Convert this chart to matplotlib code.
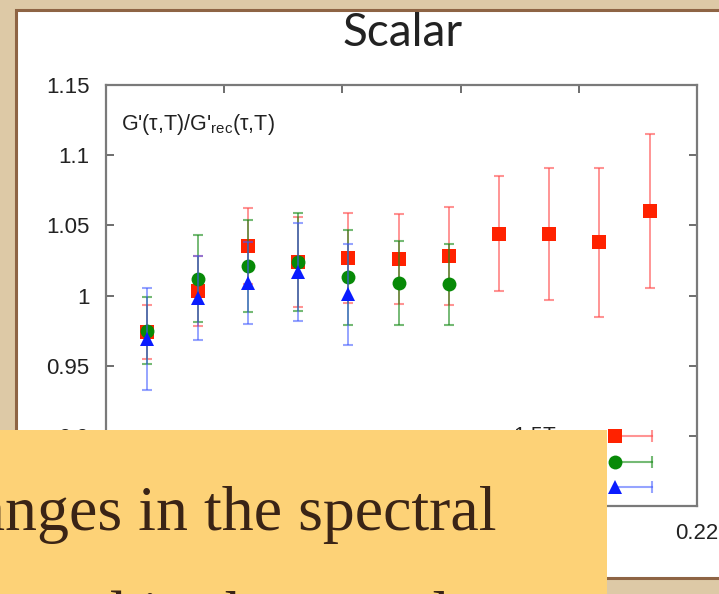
import matplotlib
matplotlib.use("Agg")
import matplotlib.pyplot as plt
from matplotlib.patches import Rectangle

plt.rcParams["font.family"] = ["Liberation Sans", "DejaVu Sans"]
plt.rcParams["mathtext.fontset"] = "custom"
plt.rcParams["mathtext.rm"] = "Liberation Sans"
plt.rcParams["mathtext.it"] = "Liberation Sans:italic"

# tau [fm] of the lattice points
tau = [0.034, 0.051, 0.068, 0.085, 0.102, 0.119, 0.136, 0.153, 0.170, 0.187, 0.204]

# G/G_rec ratio and errors, one list per temperature
ratio_15 = [0.974, 1.003, 1.035, 1.024, 1.027, 1.026, 1.028, 1.044, 1.044, 1.038, 1.060]
err_15 = [0.019, 0.025, 0.027, 0.032, 0.032, 0.032, 0.035, 0.041, 0.047, 0.053, 0.055]

ratio_225 = [0.975, 1.012, 1.021, 1.024, 1.013, 1.009, 1.008]
err_225 = [0.024, 0.031, 0.033, 0.035, 0.034, 0.030, 0.029]

ratio_3 = [0.969, 0.998, 1.009, 1.017, 1.001]
err_3 = [0.036, 0.030, 0.029, 0.035, 0.036]

labels = ["1.5T$_c$", "2.25T$_c$", "3T$_c$"]
yticks = [0.85, 0.9, 0.95, 1.0, 1.05, 1.1, 1.15]
ytick_labels = ["", "0.9", "0.95", "1", "1.05", "1.1", "1.15"]
xticks = [0.02, 0.06, 0.10, 0.14, 0.18, 0.22]
xtick_labels = ["", "", "", "", "", "0.22"]

W, H = 719, 594
fig = plt.figure(figsize=(W / 100, H / 100), dpi=100)
fig.patch.set_facecolor("#ddc9a6")

# white slide sheet on the parchment
sheet = Rectangle((16 / W, 16 / H), 1.2, 568 / H, transform=fig.transFigure,
                  facecolor="white", edgecolor="#8e6444", linewidth=2.2, zorder=-5)
fig.patches.append(sheet)

ax = fig.add_axes([106 / W, 88 / H, 591 / W, 421 / H])
ax.set_zorder(1)

series = [
    (ratio_15, err_15, "s", "#ff2200", (1.0, 0.3, 0.3, 0.6), 9.5),
    (ratio_225, err_225, "o", "#078a07", (0.1, 0.55, 0.1, 0.6), 10),
    (ratio_3, err_3, "^", "#0a1cff", (0.25, 0.35, 1.0, 0.55), 10),
]
for i, (vals, errs, mk, col, ecol, ms) in enumerate(series):
    n = len(vals)
    pts, caps, bars = ax.errorbar(tau[:n], vals, yerr=errs, fmt=mk, color=col, ecolor=ecol,
                                  elinewidth=1.4, capsize=3.8, capthick=1.5, markersize=ms,
                                  zorder=3 + i)
    pts.set_markeredgewidth(0)

# gnuplot style key in the lower right corner
key_y = [0.166, 0.1045, 0.045]
for (vals, errs, mk, col, ecol, ms), ky, lab in zip(series, key_y, labels):
    ax.plot([0.861, 0.924], [ky, ky], color=ecol, lw=1.5, transform=ax.transAxes, zorder=3)
    ax.plot([0.924], [ky], marker="|", ms=8, color=ecol, mew=1.5, transform=ax.transAxes, zorder=3)
    ax.plot([0.861], [ky], marker=mk, ms=ms, color=col, mew=0, transform=ax.transAxes, zorder=4)
    ax.text(0.775, ky, lab, transform=ax.transAxes, ha="right", va="center",
            fontsize=15, color="#222222")

ax.text(0.025, 0.905, "G'(τ,T)/G'$_{\\rm rec}$(τ,T)", transform=ax.transAxes,
        fontsize=15.5, color="#222222", va="center")

ax.set_xlim(0.02, 0.22)
ax.set_ylim(0.85, 1.15)
ax.set_yticks(yticks)
ax.set_yticklabels(ytick_labels)
ax.set_xticks(xticks)
ax.set_xticklabels(xtick_labels)
ax.tick_params(direction="in", length=6, width=1.2, color="#555555", labelsize=16,
               labelcolor="#222222", pad=12, top=True, right=True)
for sp in ax.spines.values():
    sp.set_color("#7a7a7a")
    sp.set_linewidth(1.6)

fig.text(403 / W, 1 - 33 / H, "Scalar", ha="center", va="center", fontsize=33,
         family=["Lato", "Liberation Sans"], color="#222222")

# yellow text box over the lower part of the slide
box = Rectangle((-0.01, -0.01), 607 / W + 0.01, 164 / H + 0.01,
                transform=fig.transFigure, facecolor="#fdd277", edgecolor="none", zorder=10)
fig.patches.append(box)
fig.text(-98 / W, 64 / H, "Changes in the spectral", ha="left", va="baseline",
         fontsize=46, family="Liberation Serif", color="#3a2416", zorder=11)
fig.text(-98 / W, -42 / H, "mirrored in the correlator", ha="left",
         va="baseline", fontsize=46, family="Liberation Serif", color="#3a2416", zorder=11)

fig.savefig("out.png", dpi=100, facecolor=fig.get_facecolor())
